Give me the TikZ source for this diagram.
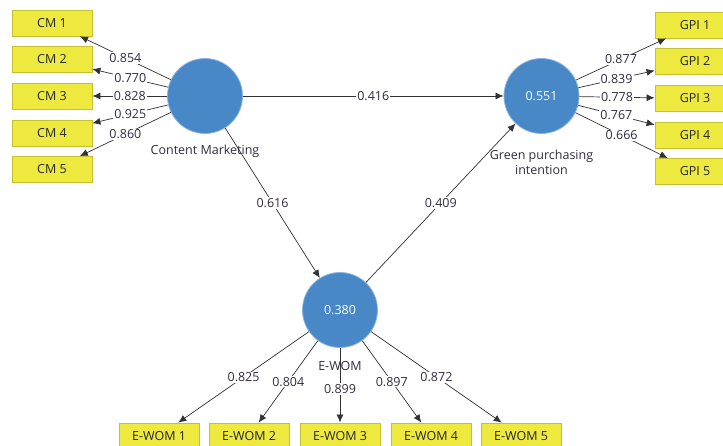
\documentclass[tikz,border=0pt]{standalone}
\usepackage{fontspec}
\setmainfont{Open Sans}
\usetikzlibrary{arrows.meta}
\definecolor{lvblue}{RGB}{72,136,198}
\definecolor{lvedge}{RGB}{140,180,222}
\definecolor{indyellow}{RGB}{238,233,62}
\definecolor{indborder}{RGB}{196,192,48}
\definecolor{linegray}{RGB}{50,50,50}
\definecolor{txtgray}{RGB}{50,44,62}
\begin{document}
\begin{tikzpicture}[x=1pt,y=-1pt,
  latent/.style={circle, fill=lvblue, draw=lvedge, line width=0.8pt, minimum size=75pt, inner sep=0pt, text=white, font=\fontsize{12.5}{14}\selectfont},
  indicator/.style={rectangle, fill=indyellow, draw=indborder, line width=0.8pt, minimum width=80pt, minimum height=26pt, inner sep=0pt, font=\fontsize{12.5}{14}\selectfont, text=black!85},
  link/.style={draw=linegray, line width=0.7pt, -{Latex[length=8pt,width=7pt]}},
  coef/.style={fill=white, inner sep=1pt, font=\fontsize{12.5}{14}\selectfont, text=txtgray},
  lvlabel/.style={inner sep=0pt, font=\fontsize{12.5}{15}\selectfont, text=txtgray, align=center}
]
\clip (0,0) rectangle (723,446);
\fill[white] (0,0) rectangle (723,446);

% latent variables
\node[latent] (cm) at (205,96) {};
\node[latent] (gpi) at (541.5,96) {0.551};
\node[latent] (ew) at (340,310) {0.380};

% CM indicators
\node[indicator] (cm1) at (52,23) {CM 1};
\node[indicator] (cm2) at (52,59.5) {CM 2};
\node[indicator] (cm3) at (52,96) {CM 3};
\node[indicator] (cm4) at (52,133) {CM 4};
\node[indicator] (cm5) at (52,169.5) {CM 5};

% GPI indicators
\node[indicator] (gpi1) at (695,25) {GPI 1};
\node[indicator] (gpi2) at (695,61.5) {GPI 2};
\node[indicator] (gpi3) at (695,98.5) {GPI 3};
\node[indicator] (gpi4) at (695,135) {GPI 4};
\node[indicator] (gpi5) at (695,171.5) {GPI 5};

% E-WOM indicators
\node[indicator] (ew1) at (159,436) {E-WOM 1};
\node[indicator] (ew2) at (249,436) {E-WOM 2};
\node[indicator] (ew3) at (340,436) {E-WOM 3};
\node[indicator] (ew4) at (431,436) {E-WOM 4};
\node[indicator] (ew5) at (521,436) {E-WOM 5};

% loadings
\draw[link] (cm) -- node[coef] {0.854} (cm1);
\draw[link] (cm) -- node[coef] {0.770} (cm2);
\draw[link] (cm) -- node[coef] {0.828} (cm3);
\draw[link] (cm) -- node[coef] {0.925} (cm4);
\draw[link] (cm) -- node[coef] {0.860} (cm5);

\draw[link] (gpi) -- node[coef] {0.877} (gpi1);
\draw[link] (gpi) -- node[coef] {0.839} (gpi2);
\draw[link] (gpi) -- node[coef] {0.778} (gpi3);
\draw[link] (gpi) -- node[coef] {0.767} (gpi4);
\draw[link] (gpi) -- node[coef] {0.666} (gpi5);

\draw[link] (ew) -- node[coef] {0.825} (ew1);
\draw[link] (ew) -- node[coef] {0.804} (ew2);
\draw[link] (ew) -- node[coef, pos=0.55] {0.899} (ew3);
\draw[link] (ew) -- node[coef] {0.897} (ew4);
\draw[link] (ew) -- node[coef] {0.872} (ew5);

% structural paths
\draw[link] (cm) -- node[coef] {0.416} (gpi);
\draw[link] (cm) -- node[coef] {0.616} (ew);
\draw[link] (ew) -- node[coef] {0.409} (gpi);

% construct names
\node[lvlabel] (cmname) at (205,151) {Content Marketing};
\node[lvlabel] (gpiname) at (541.5,162.5) {Green purchasing\\intention};
\node[lvlabel] (ewname) at (340,366) {E-WOM};
\end{tikzpicture}
\end{document}
